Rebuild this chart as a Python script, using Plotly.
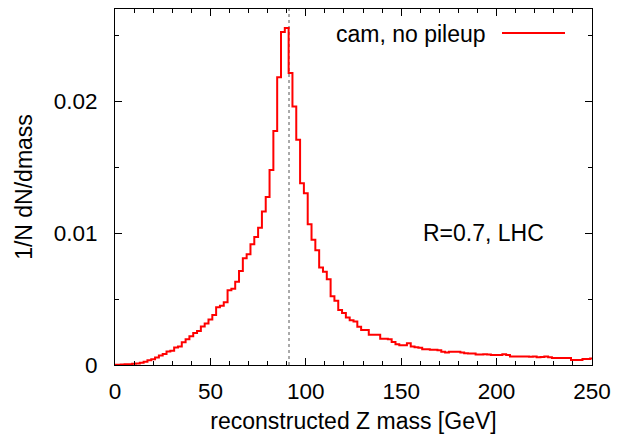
import plotly.graph_objects as go

# bin centres (GeV) and normalised counts
mass = list(range(0, 252, 2))
dens = [
    0.00001, 0.00002, 0.00003, 0.00005, 0.00006, 0.00010, 0.00012, 0.00018, 0.00025, 0.00036,  # 0-18
    0.00043, 0.00056, 0.00072, 0.00083, 0.00102, 0.00109, 0.00132, 0.00140, 0.00172, 0.00195,  # 20-38
    0.00218, 0.00242, 0.00258, 0.00292, 0.00314, 0.00345, 0.00380, 0.00438, 0.00450, 0.00476,  # 40-58
    0.00566, 0.00578, 0.00632, 0.00712, 0.00810, 0.00840, 0.00915, 0.00970, 0.01040, 0.01165,  # 60-78
    0.01275, 0.01478, 0.01775, 0.02183, 0.02525, 0.02555, 0.02215, 0.01960, 0.01708, 0.01378,  # 80-98
    0.01302, 0.01068, 0.00950, 0.00870, 0.00740, 0.00707, 0.00650, 0.00522, 0.00487, 0.00418,  # 100-118
    0.00394, 0.00360, 0.00340, 0.00330, 0.00290, 0.00265, 0.00265, 0.00230, 0.00230, 0.00230,  # 120-138
    0.00200, 0.00200, 0.00195, 0.00175, 0.00157, 0.00150, 0.00150, 0.00165, 0.00140, 0.00135,  # 140-158
    0.00130, 0.00120, 0.00120, 0.00115, 0.00115, 0.00112, 0.00100, 0.00095, 0.00100, 0.00100,  # 160-178
    0.00100, 0.00095, 0.00090, 0.00087, 0.00087, 0.00080, 0.00080, 0.00082, 0.00080, 0.00075,  # 180-198
    0.00075, 0.00075, 0.00082, 0.00075, 0.00065, 0.00065, 0.00065, 0.00065, 0.00065, 0.00063,  # 200-218
    0.00065, 0.00058, 0.00060, 0.00065, 0.00058, 0.00053, 0.00053, 0.00053, 0.00053, 0.00053,  # 220-238
    0.00038, 0.00038, 0.00038, 0.00045, 0.00045, 0.00050,                                      # 240-250
]
series_name = "cam, no pileup"
z_mass = 91.2
note_text = "R=0.7, LHC"
x_title = "reconstructed Z mass [GeV]"
y_title = "1/N dN/dmass"
x_tickvals = [0, 50, 100, 150, 200, 250]
y_tickvals = [0, 0.01, 0.02]
y_ticktext = ["0", "0.01", "0.02"]

W, H = 617, 436
L, R, T, B = 115, 25, 9, 71
pw, ph = W - L - R, H - T - B


def px(x):
    return (x - L) / pw


def py(y):
    return (H - B - y) / ph


FONT = "Liberation Sans, Arial, sans-serif"
TXT = 23
TICK = 22.5

fig = go.Figure()
fig.add_trace(go.Scatter(
    x=mass, y=dens, mode="lines", name=series_name,
    line=dict(color="#ff0000", width=2, shape="hvh"),
    showlegend=False,
))

# Z mass marker
fig.add_shape(type="line", xref="x", yref="paper", x0=z_mass, x1=z_mass, y0=0, y1=1,
              line=dict(color="#555555", width=1, dash="dot"), layer="below")

# gnuplot-style key: text then sample line
fig.add_annotation(text=series_name, xref="paper", yref="paper", x=px(488), y=py(34),
                   xanchor="right", yanchor="middle", showarrow=False,
                   font=dict(family=FONT, size=TXT, color="black"))
fig.add_shape(type="line", xref="paper", yref="paper", x0=px(502), x1=px(565),
              y0=py(33), y1=py(33), line=dict(color="#ff0000", width=2))

fig.add_annotation(text=note_text, xref="paper", yref="paper", x=px(546), y=py(233),
                   xanchor="right", yanchor="middle", showarrow=False,
                   font=dict(family=FONT, size=TXT, color="black"))

axis_common = dict(
    showline=True, linecolor="black", linewidth=1, mirror="allticks",
    ticks="inside", ticklen=7, tickwidth=1, tickcolor="black",
    showgrid=False, zeroline=False,
    tickfont=dict(family=FONT, size=TICK, color="black"),
    title_font=dict(family=FONT, size=TXT, color="black"),
)

fig.update_xaxes(range=[0, 250], tickvals=x_tickvals, title_text=x_title,
                 title_standoff=9, ticklabelstandoff=6,
                 minor=dict(dtick=10, ticks="inside", ticklen=4, tickcolor="black", tickwidth=1),
                 **axis_common)
fig.update_yaxes(range=[0, 0.027], tickvals=y_tickvals, ticktext=y_ticktext, title_text=y_title,
                 title_standoff=14, ticklabelstandoff=12,
                 minor=dict(dtick=0.005, ticks="inside", ticklen=4, tickcolor="black", tickwidth=1),
                 **axis_common)

fig.update_layout(
    width=W, height=H,
    margin=dict(l=L, r=R, t=T, b=B, autoexpand=False),
    paper_bgcolor="white", plot_bgcolor="white",
    font=dict(family=FONT, size=TXT, color="black"),
)

fig.write_html(
    "out.html",
    config={"displayModeBar": False},
    post_script="document.body.style.margin='0';document.body.style.overflow='hidden';",
)
